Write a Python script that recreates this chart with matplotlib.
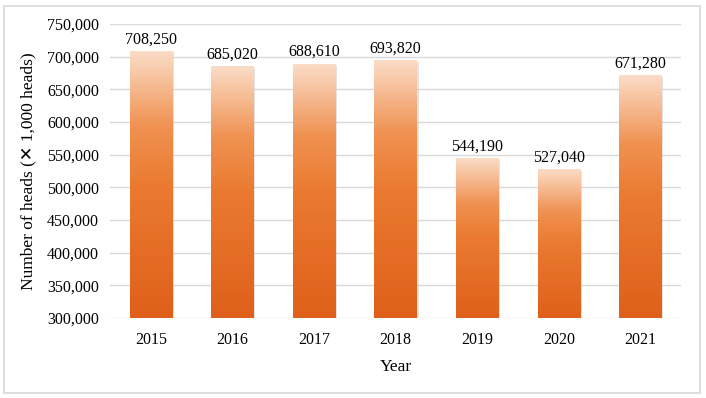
import numpy as np
import matplotlib.pyplot as plt
from matplotlib.colors import LinearSegmentedColormap
from matplotlib.patches import Rectangle

years = ["2015", "2016", "2017", "2018", "2019", "2020", "2021"]
heads = [708250, 685020, 688610, 693820, 544190, 527040, 671280]

plt.rcParams['font.family'] = ['Liberation Serif', 'DejaVu Sans']

fig = plt.figure(figsize=(7.06, 3.98), dpi=100)
ax = fig.add_axes([0.156, 0.201, 0.809, 0.739])

# outer frame
fig.patches.append(Rectangle((0.006, 0.012), 0.986, 0.974, transform=fig.transFigure,
                             fill=False, edgecolor='#d9d9d9', linewidth=1.2))

cmap = LinearSegmentedColormap.from_list(
    "orange", [(0, "#df601a"), (0.5, "#eb7a30"), (0.72, "#f09252"), (1, "#fbdcc7")])
grad = np.linspace(0, 1, 256).reshape(-1, 1)

ymin = 300000
x = np.arange(len(years))
w = 0.52
bars = ax.bar(x, np.array(heads) - ymin, bottom=ymin, width=w, color='none', zorder=3)
for b in bars:
    x0, y0 = b.get_x(), b.get_y()
    ax.imshow(grad, cmap=cmap, origin='lower', aspect='auto', zorder=3,
              extent=[x0, x0 + b.get_width(), y0, y0 + b.get_height()])
    # faint shadow
    ax.add_patch(Rectangle((x0 + 0.02, y0), b.get_width(), b.get_height() - 2000,
                           facecolor='#c8c8c8', edgecolor='none', alpha=0.5, zorder=2))

for xi, v in zip(x, heads):
    ax.text(xi, v + 6000, f"{v:,}", ha='center', va='bottom', fontsize=11.5, zorder=4)

ax.set_xlim(-0.5, len(years) - 0.5)
ax.set_ylim(300000, 750000)
ax.set_yticks(np.arange(300000, 750001, 50000))
ax.set_yticklabels([f"{t:,}" for t in range(300000, 750001, 50000)])
ax.set_xticks(x)
ax.set_xticklabels(years)
ax.tick_params(length=0, labelsize=11.5, pad=8)
ax.tick_params(axis='x', pad=10)
ax.grid(axis='y', color='#d9d9d9', linewidth=1, zorder=0)
ax.set_axisbelow(True)
for s in ax.spines.values():
    s.set_visible(False)

ax.set_xlabel("Year", fontsize=12.5, labelpad=8)
ax.set_ylabel("Number of heads (\u2715 1,000 heads)", fontsize=12.5, labelpad=8)

fig.savefig("out.png", dpi=100)
